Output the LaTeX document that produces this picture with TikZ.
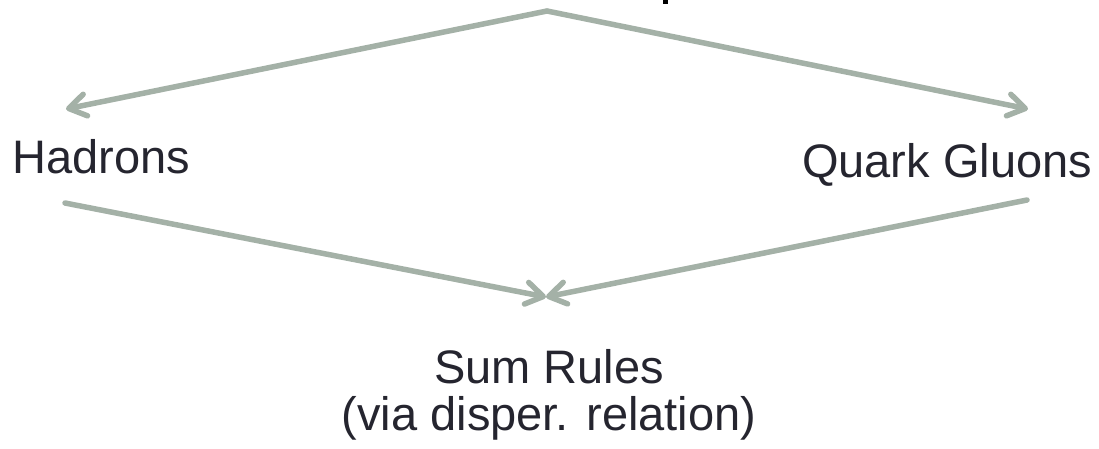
\documentclass[tikz,border=0pt]{standalone}
\usepackage{fontspec}
\setmainfont{Liberation Sans}
\usetikzlibrary{arrows.meta}
\definecolor{linegray}{HTML}{A4B1A7}
\definecolor{txt}{HTML}{25252F}
\begin{document}
\begin{tikzpicture}[x=1pt,y=-1pt,
  lbl/.style={inner sep=0pt, anchor=base, text=txt, font=\fontsize{47}{47}\selectfont},
  conn/.style={draw=linegray, line width=5.5pt, line cap=round, line join=round,
    -{Straight Barb[length=17pt,width=22pt,line cap=round,line join=round]}}]
\useasboundingbox (0,0) rectangle (1099,448);
\fill (663,0) rectangle (667.5,4);
\node[lbl] (had) at (101,173) {Hadrons};
\node[lbl] (qg) at (947,177) {Quark Gluons};
\node[lbl] (sum) at (549,383) {Sum Rules};
\node[lbl] (via) at (549,430) {(via disper. relation)};
\coordinate (top) at (547,11);
\coordinate (hIn) at (66,109);
\coordinate (qIn) at (1028,109);
\coordinate (hOut) at (65,203);
\coordinate (qOut) at (1027,200);
\coordinate (sIn) at (546,297);
\draw[conn] (top) -- (hIn);
\draw[conn] (top) -- (qIn);
\draw[conn] (hOut) -- (sIn);
\draw[conn] (qOut) -- (sIn);
\end{tikzpicture}
\end{document}
